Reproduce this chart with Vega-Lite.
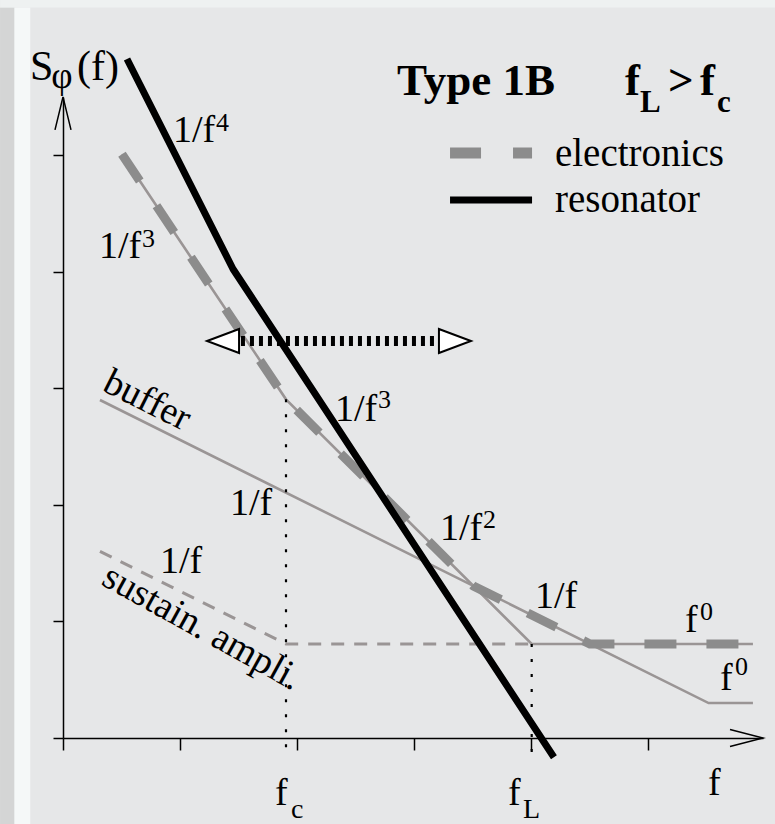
{
  "$schema": "https://vega.github.io/schema/vega-lite/v6.json",
  "width": 700,
  "height": 641,
  "autosize": {"type": "none"},
  "padding": {"left": 63, "top": 97, "right": 12, "bottom": 86},
  "background": "#e6e7e8",
  "config": {"view": {"stroke": null}},
  "datasets": {
    "frame": [
      {"part": "edge", "x": -0.538, "x2": -0.415, "y": -0.74, "y2": 6.27},
      {"part": "gap", "x": -0.415, "x2": -0.28, "y": -0.74, "y2": 6.27},
      {"part": "top", "x": -0.538, "x2": 6.09, "y": 6.27, "y2": 6.34}
    ],
    "resonator": [
      {"x": 0.547, "y": 5.828},
      {"x": 1.453, "y": 4.026},
      {"x": 4.196, "y": -0.165}
    ],
    "leeson": [
      {"x": 0.504, "y": 5.010},
      {"x": 1.906, "y": 2.907},
      {"x": 4.006, "y": 0.807},
      {"x": 5.897, "y": 0.807}
    ],
    "buffer": [
      {"x": 0.316, "y": 2.901},
      {"x": 5.518, "y": 0.300},
      {"x": 5.897, "y": 0.300}
    ],
    "sustain": [
      {"x": 0.316, "y": 1.602},
      {"x": 1.906, "y": 0.807},
      {"x": 4.006, "y": 0.807}
    ],
    "electronics": [
      {"x": 0.504, "y": 5.010},
      {"x": 1.906, "y": 2.907},
      {"x": 3.508, "y": 1.305},
      {"x": 4.504, "y": 0.807},
      {"x": 5.803, "y": 0.807}
    ],
    "corners": [
      {"name": "fc", "x": 1.906, "y": 2.907, "y2": -0.15},
      {"name": "fL", "x": 4.006, "y": 0.807, "y2": -0.17}
    ],
    "span": [{"x": 1.521, "x2": 3.197, "y": 3.408}],
    "spanEnds": [
      {"dir": "left", "x": 1.368, "y": 3.408},
      {"dir": "right", "x": 3.350, "y": 3.408}
    ],
    "yTip": [{"x": 0, "y": 5.361}],
    "xTip": [{"x": 5.842, "y": 0}],
    "keyElectronics": [{"x": 3.308, "x2": 4.009, "y": 5.021}],
    "keyResonator": [{"x": 3.308, "x2": 4.009, "y": 4.618}],
    "labels": [
      {"t": "1/f", "x": 0.940, "y": 5.116},
      {"t": "1/f", "x": 0.308, "y": 4.120},
      {"t": "1/f", "x": 2.325, "y": 2.721},
      {"t": "1/f", "x": 1.427, "y": 1.914},
      {"t": "1/f", "x": 0.829, "y": 1.416},
      {"t": "1/f", "x": 3.222, "y": 1.700},
      {"t": "1/f", "x": 4.034, "y": 1.116},
      {"t": "f", "x": 5.316, "y": 0.910},
      {"t": "f", "x": 5.615, "y": 0.412},
      {"t": "f", "x": 5.513, "y": -0.489},
      {"t": "f", "x": 1.812, "y": -0.575},
      {"t": "f", "x": 3.803, "y": -0.575}
    ],
    "keyNames": [
      {"t": "electronics", "x": 4.205, "y": 4.910},
      {"t": "resonator", "x": 4.205, "y": 4.515}
    ],
    "powers": [
      {"t": "4", "x": 1.308, "y": 5.210},
      {"t": "3", "x": 0.675, "y": 4.215},
      {"t": "3", "x": 2.692, "y": 2.833},
      {"t": "2", "x": 3.590, "y": 1.803},
      {"t": "0", "x": 5.444, "y": 1.013},
      {"t": "0", "x": 5.744, "y": 0.541}
    ],
    "freqSubs": [
      {"t": "c", "x": 1.949, "y": -0.687},
      {"t": "L", "x": 3.932, "y": -0.687}
    ],
    "yTitle": [
      {"t": "S", "x": -0.282, "y": 5.648},
      {"t": "(f)", "x": 0.120, "y": 5.648}
    ],
    "yTitleSub": [{"t": "φ", "x": -0.100, "y": 5.580}],
    "heading": [
      {"t": "Type 1B", "x": 2.855, "y": 5.519},
      {"t": "f", "x": 4.803, "y": 5.519},
      {"t": ">", "x": 5.171, "y": 5.519},
      {"t": "f", "x": 5.444, "y": 5.519}
    ],
    "headingSubs": [
      {"t": "L", "x": 4.932, "y": 5.373},
      {"t": "c", "x": 5.590, "y": 5.373}
    ],
    "bufferName": [{"t": "buffer", "x": 0.325, "y": 2.987}],
    "sustainName": [{"t": "sustain. ampli.", "x": 0.316, "y": 1.322}]
  },
  "encoding": {
    "x": {
      "field": "x",
      "type": "quantitative",
      "scale": {"domain": [0, 5.983], "nice": false, "zero": false},
      "axis": {
        "values": [0, 1, 2, 3, 4, 5],
        "labels": false,
        "title": null,
        "grid": false,
        "domainColor": "black",
        "domainWidth": 1.5,
        "tickColor": "black",
        "tickWidth": 1.5,
        "tickSize": 12
      }
    },
    "y": {
      "field": "y",
      "type": "quantitative",
      "scale": {"domain": [0, 5.502], "nice": false, "zero": false},
      "axis": {
        "values": [0, 1, 2, 3, 4, 5],
        "labels": false,
        "title": null,
        "grid": false,
        "domainColor": "black",
        "domainWidth": 1.5,
        "tickColor": "black",
        "tickWidth": 1.5,
        "tickSize": 10
      }
    }
  },
  "layer": [
    {
      "data": {"name": "frame"},
      "mark": {"type": "rect"},
      "encoding": {
        "x2": {"field": "x2"},
        "y2": {"field": "y2"},
        "color": {
          "field": "part",
          "type": "nominal",
          "scale": {"domain": ["edge", "gap", "top"], "range": ["#d4d5d5", "#f5f8f8", "#eef1f1"]},
          "legend": null
        }
      }
    },
    {
      "data": {"name": "sustain"},
      "mark": {"type": "line", "color": "#9a9595", "strokeWidth": 3, "strokeDash": [13, 10]},
      "encoding": {}
    },
    {
      "data": {"name": "buffer"},
      "mark": {"type": "line", "color": "#9a9595", "strokeWidth": 2.6},
      "encoding": {}
    },
    {
      "data": {"name": "leeson"},
      "mark": {"type": "line", "color": "#9a9595", "strokeWidth": 2.6},
      "encoding": {}
    },
    {
      "data": {"name": "electronics"},
      "mark": {"type": "line", "color": "#8c8c8c", "strokeWidth": 9, "strokeDash": [32, 30], "strokeCap": "butt"},
      "encoding": {}
    },
    {
      "data": {"name": "resonator"},
      "mark": {"type": "line", "color": "black", "strokeWidth": 7, "strokeJoin": "round"},
      "encoding": {}
    },
    {
      "data": {"name": "corners"},
      "mark": {"type": "rule", "color": "black", "strokeWidth": 2.2, "strokeDash": [3, 12]},
      "encoding": {"y2": {"field": "y2"}}
    },
    {
      "data": {"name": "span"},
      "mark": {"type": "rule", "color": "black", "strokeWidth": 10, "strokeDash": [4, 5]},
      "encoding": {"x2": {"field": "x2"}}
    },
    {
      "data": {"name": "spanEnds"},
      "mark": {"type": "point", "size": 1024, "filled": true, "fill": "white", "stroke": "black", "strokeWidth": 2, "opacity": 1},
      "encoding": {
        "shape": {
          "field": "dir",
          "type": "nominal",
          "scale": {"domain": ["left", "right"], "range": ["M-1,0L1,-0.75L1,0.75Z", "M1,0L-1,-0.75L-1,0.75Z"]},
          "legend": null
        }
      }
    },
    {
      "data": {"name": "yTip"},
      "mark": {"type": "point", "shape": "M-0.485,1L0,-1L0.485,1", "size": 1089, "filled": false, "stroke": "black", "strokeWidth": 1.5, "opacity": 1},
      "encoding": {}
    },
    {
      "data": {"name": "xTip"},
      "mark": {"type": "point", "shape": "M-1,-0.52L1,0L-1,0.52", "size": 1089, "filled": false, "stroke": "black", "strokeWidth": 1.5, "opacity": 1},
      "encoding": {}
    },
    {
      "data": {"name": "keyElectronics"},
      "mark": {"type": "rule", "color": "#8c8c8c", "strokeWidth": 11, "strokeDash": [31, 32], "strokeCap": "butt"},
      "encoding": {"x2": {"field": "x2"}}
    },
    {
      "data": {"name": "keyResonator"},
      "mark": {"type": "rule", "color": "black", "strokeWidth": 7, "strokeCap": "butt"},
      "encoding": {"x2": {"field": "x2"}}
    },
    {
      "data": {"name": "labels"},
      "mark": {"type": "text", "font": "Liberation Serif", "fontSize": 38, "align": "left", "baseline": "alphabetic", "color": "black"},
      "encoding": {"text": {"field": "t"}}
    },
    {
      "data": {"name": "keyNames"},
      "mark": {"type": "text", "font": "Liberation Serif", "fontSize": 39, "align": "left", "baseline": "alphabetic", "color": "black"},
      "encoding": {"text": {"field": "t"}}
    },
    {
      "data": {"name": "powers"},
      "mark": {"type": "text", "font": "Liberation Serif", "fontSize": 26, "align": "left", "baseline": "alphabetic", "color": "black"},
      "encoding": {"text": {"field": "t"}}
    },
    {
      "data": {"name": "freqSubs"},
      "mark": {"type": "text", "font": "Liberation Serif", "fontSize": 28, "align": "left", "baseline": "alphabetic", "color": "black"},
      "encoding": {"text": {"field": "t"}}
    },
    {
      "data": {"name": "yTitle"},
      "mark": {"type": "text", "font": "Liberation Serif", "fontSize": 42, "align": "left", "baseline": "alphabetic", "color": "black"},
      "encoding": {"text": {"field": "t"}}
    },
    {
      "data": {"name": "yTitleSub"},
      "mark": {"type": "text", "font": "Liberation Serif", "fontSize": 37, "align": "left", "baseline": "alphabetic", "color": "black"},
      "encoding": {"text": {"field": "t"}}
    },
    {
      "data": {"name": "heading"},
      "mark": {"type": "text", "font": "Liberation Serif", "fontSize": 45, "fontWeight": "bold", "align": "left", "baseline": "alphabetic", "color": "black"},
      "encoding": {"text": {"field": "t"}}
    },
    {
      "data": {"name": "headingSubs"},
      "mark": {"type": "text", "font": "Liberation Serif", "fontSize": 31, "fontWeight": "bold", "align": "left", "baseline": "alphabetic", "color": "black"},
      "encoding": {"text": {"field": "t"}}
    },
    {
      "data": {"name": "bufferName"},
      "mark": {"type": "text", "font": "Liberation Serif", "fontSize": 38, "align": "left", "baseline": "alphabetic", "angle": 26.6, "color": "black"},
      "encoding": {"text": {"field": "t"}}
    },
    {
      "data": {"name": "sustainName"},
      "mark": {"type": "text", "font": "Liberation Serif", "fontSize": 38, "align": "left", "baseline": "alphabetic", "angle": 29, "color": "black"},
      "encoding": {"text": {"field": "t"}}
    }
  ]
}
